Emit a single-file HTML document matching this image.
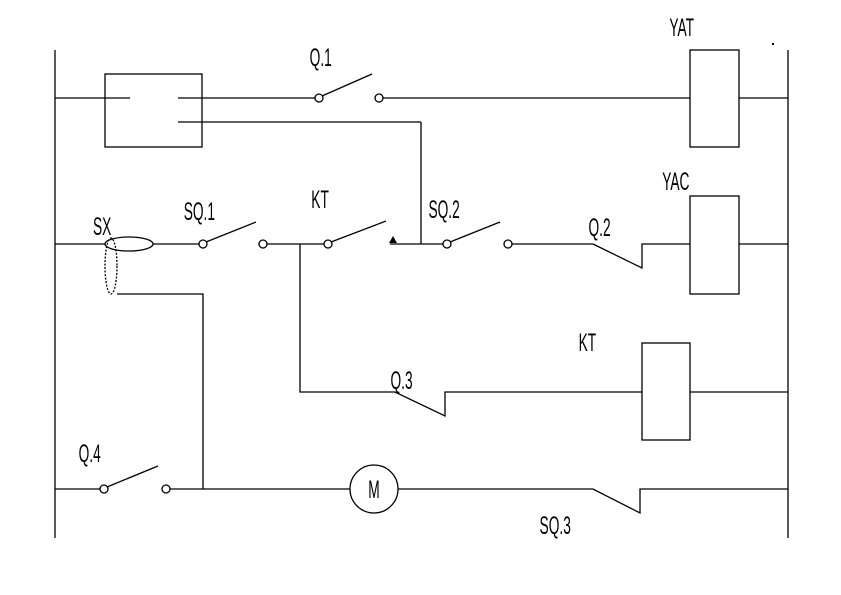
<!DOCTYPE html>
<html><head><style>
html,body{margin:0;padding:0;background:#fff;}
svg{display:block}
text{font-family:"Liberation Sans",sans-serif;font-size:25px;fill:#000}
</style></head><body>
<svg width="841" height="595" viewBox="0 0 841 595" xmlns="http://www.w3.org/2000/svg">
<g stroke="#000" stroke-width="1.3" fill="none">
<line x1="55" y1="50" x2="55" y2="538"/>
<line x1="788" y1="50" x2="788" y2="538"/>
<rect x="105" y="74" width="97" height="73"/>
<line x1="55" y1="98" x2="130" y2="98"/>
<line x1="178" y1="98" x2="315" y2="98"/>
<circle cx="319" cy="98" r="4"/>
<line x1="322" y1="96" x2="372" y2="74"/>
<circle cx="379" cy="98" r="4"/>
<line x1="383" y1="98" x2="690" y2="98"/>
<line x1="178" y1="122" x2="421" y2="122"/>
<line x1="421" y1="122" x2="421" y2="244"/>
<rect x="690" y="50" width="49" height="97"/>
<line x1="739" y1="98" x2="788" y2="98"/>
<line x1="55" y1="244" x2="105" y2="244"/>
<ellipse cx="129" cy="244" rx="24" ry="7"/>
<line x1="153" y1="244" x2="199" y2="244"/>
<circle cx="203" cy="244" r="4"/>
<line x1="206" y1="242" x2="256" y2="222"/>
<circle cx="263" cy="244" r="4"/>
<line x1="267" y1="244" x2="324" y2="244"/>
<circle cx="328" cy="244" r="4"/>
<line x1="331" y1="242" x2="386" y2="221"/>
<line x1="390" y1="244" x2="443" y2="244"/>
<circle cx="447" cy="244" r="4"/>
<line x1="450" y1="242" x2="500" y2="222"/>
<circle cx="508" cy="244" r="4"/>
<line x1="512" y1="244" x2="593" y2="244"/>
<polyline points="593,244 642,268 642,244 690,244"/>
<rect x="690" y="196" width="49" height="98"/>
<line x1="739" y1="244" x2="788" y2="244"/>
<ellipse cx="111" cy="266" rx="6" ry="28" stroke-dasharray="2,1.5"/>
<polyline points="117,294 203,294 203,489"/>
<polyline points="300,244 300,392 395,392 445,416 445,392 642,392"/>
<rect x="642" y="343" width="48" height="97"/>
<line x1="690" y1="392" x2="788" y2="392"/>
<line x1="55" y1="489" x2="100" y2="489"/>
<circle cx="104" cy="489" r="4"/>
<line x1="107" y1="487" x2="158" y2="466"/>
<circle cx="166" cy="489" r="4"/>
<line x1="170" y1="489" x2="350" y2="489"/>
<circle cx="374" cy="489" r="24"/>
<polyline points="398,489 593,489 640,513 640,489 788,489"/>
</g>
<polygon points="393,236 389,243 397,243" fill="#000"/>
<rect x="772" y="43" width="2" height="2" fill="#000"/>
<g transform="scale(0.55,1)">
<text x="563" y="66">Q.1</text>
<text x="1217" y="36">YAT</text>
<text x="1204" y="190">YAC</text>
<text x="1070" y="236">Q.2</text>
<text x="169" y="235">SX</text>
<text x="334" y="220">SQ.1</text>
<text x="566" y="208">KT</text>
<text x="779" y="218">SQ.2</text>
<text x="1052" y="351">KT</text>
<text x="710" y="389">Q.3</text>
<text x="143" y="462">Q.4</text>
<text x="680" y="498" text-anchor="middle">M</text>
<text x="981" y="534">SQ.3</text>
</g>
</svg>
</body></html>
